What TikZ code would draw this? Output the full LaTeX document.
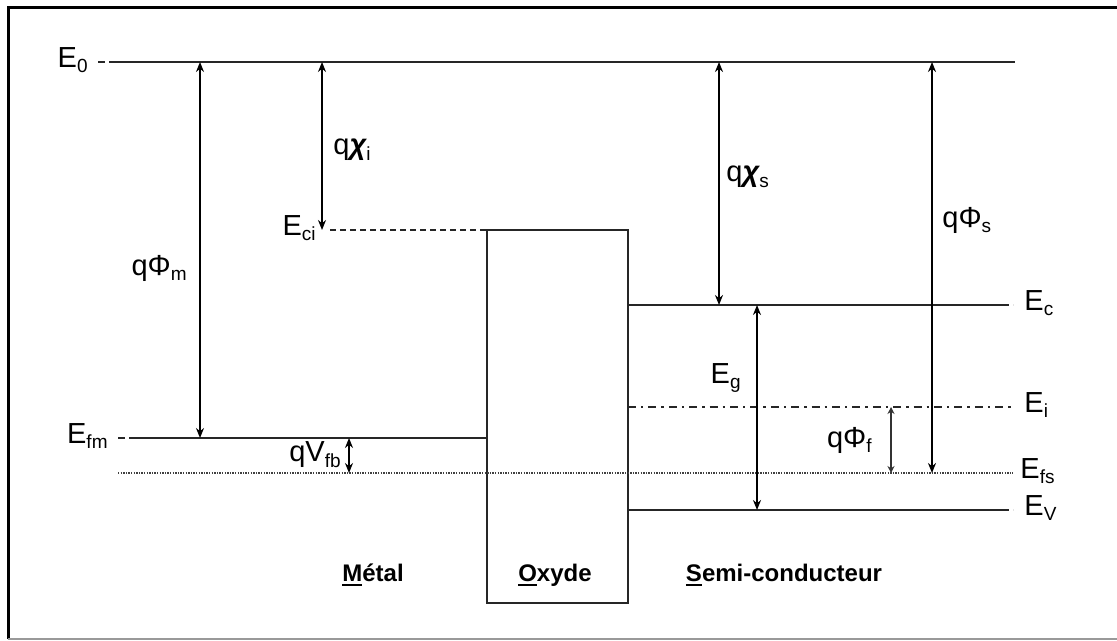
\documentclass[tikz,border=0pt]{standalone}
\usepackage{fontspec}
\setmainfont{Liberation Sans}
\usetikzlibrary{arrows.meta,positioning,calc}
\newcommand{\lsub}[1]{\raisebox{-0.35ex}{\fontsize{9.5}{9.5}\selectfont #1}}
\newcommand{\ulet}[1]{\setbox0\hbox{#1}\rlap{\rule[-2.6pt]{\wd0}{1.3pt}}\box0}
\newcommand{\chisym}{{\bfseries\itshape χ}}

\begin{document}
\begin{tikzpicture}[
    x=0.5pt, y=-0.5pt,
    level/.style={line width=0.9pt, draw=black!85},
    stub/.style={line width=0.9pt, draw=black!85, dash pattern=on 3.5pt off 2pt},
    dotlevel/.style={line width=0.9pt, draw=black!75, dash pattern=on 0.7pt off 0.6pt},
    dashlevel/.style={line width=0.9pt, draw=black!85, dash pattern=on 3pt off 2pt},
    dashdotlevel/.style={line width=0.9pt, draw=black!85, dash pattern=on 4pt off 2.5pt on 1.2pt off 2.5pt},
    gap/.style={{Stealth[length=5pt,width=4pt]}-{Stealth[length=5pt,width=4pt]}, line width=0.9pt},
    smallgap/.style={{Stealth[length=3.5pt,width=3.5pt]}-{Stealth[length=3.5pt,width=3.5pt]}, line width=0.9pt, draw=black!80},
    lbl/.style={font=\fontsize{14.5}{15}\selectfont, inner sep=1pt},
    region/.style={font=\bfseries\fontsize{12}{13}\selectfont, inner sep=1pt}
]
\useasboundingbox (0,0) rectangle (1117,641);

% --- Frame ---
\draw[line width=1.5pt] (1130,8) -- (8,8) -- (8,639);
\draw[line width=1pt, black!40] (8,639) -- (1130,639);

% --- Oxide barrier ---
\draw[level] (487,230) rectangle (628,603);

% --- Energy levels ---
\draw[stub] (98,62) -- (113,62);
\draw[level] (113,62) -- (1015,62);
\draw[dashlevel] (330,230) -- (487,230);
\draw[stub] (118,438) -- (132,438);
\draw[level] (132,438) -- (487,438);
\draw[dotlevel] (118,473) -- (1013,473);
\draw[level] (628,305) -- (1002,305);
\draw[stub] (1002,305) -- (1013,305);
\draw[dashdotlevel] (628,407) -- (1013,407);
\draw[level] (628,510) -- (1002,510);
\draw[stub] (1002,510) -- (1013,510);

% --- Level labels ---
\node[lbl, anchor=east] (lE0)  at (90,60)   {E\lsub{0}};
\node[lbl, anchor=east] (lEci) at (318,228) {E\lsub{ci}};
\node[lbl, anchor=east] (lEfm) at (110,436) {E\lsub{fm}};
\node[lbl, anchor=west] (lEc)  at (1022,303) {E\lsub{c}};
\node[lbl, anchor=west] (lEi)  at (1022,405) {E\lsub{i}};
\node[lbl, anchor=west] (lEfs) at (1018,471) {E\lsub{fs}};
\node[lbl, anchor=west] (lEv)  at (1022,508) {E\lsub{V}};

% --- Arrow end points ---
\coordinate (m0) at (200,62);  \coordinate (m1) at (200,438);
\coordinate (i0) at (322,62);  \coordinate (i1) at (322,230);
\coordinate (v0) at (349,438); \coordinate (v1) at (349,473);
\coordinate (s0) at (719,62);  \coordinate (s1) at (719,305);
\coordinate (g0) at (757,305); \coordinate (g1) at (757,510);
\coordinate (f0) at (891,407); \coordinate (f1) at (891,473);
\coordinate (p0) at (932,62);  \coordinate (p1) at (932,473);

% --- Gaps ---
\draw[gap] (m0) -- (m1);
\draw[gap] (i0) -- (i1);
\draw[gap] (v0) -- (v1);
\draw[gap] (s0) -- (s1);
\draw[gap] (g0) -- (g1);
\draw[smallgap] (f0) -- (f1);
\draw[gap] (p0) -- (p1);

\node[lbl, anchor=east] (lPm)  at (189,268) {qΦ\lsub{m}};
\node[lbl, anchor=west] (lXi)  at (331,150) {q\chisym\lsub{i}};
\node[lbl, anchor=east] (lVfb) at (343,455) {qV\lsub{fb}};
\node[lbl, anchor=west] (lXs)  at (724,177) {q\chisym\lsub{s}};
\node[lbl, anchor=east] (lEg)  at (743,378) {E\lsub{g}};
\node[lbl, anchor=east] (lPf)  at (874,440) {qΦ\lsub{f}};
\node[lbl, anchor=west] (lPs)  at (940,220) {qΦ\lsub{s}};

% --- Regions ---
\node[region] (metal) at (373,575) {\ulet{M}étal};
\node[region] (oxide) at (555,575) {\ulet{O}xyde};
\node[region] (semi)  at (784,575) {\ulet{S}emi-conducteur};

\end{tikzpicture}
\end{document}
